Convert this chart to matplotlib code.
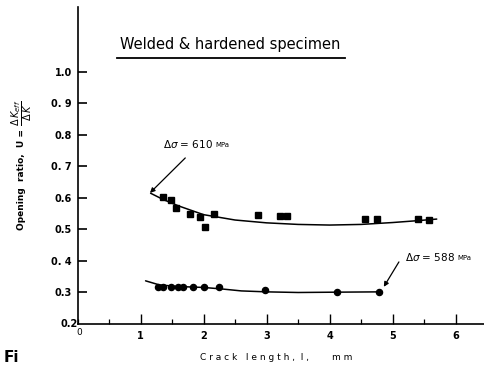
import matplotlib
matplotlib.use("Agg")
import matplotlib.pyplot as plt
from matplotlib.lines import Line2D
from matplotlib.ticker import MultipleLocator, FixedLocator

plt.rcParams['font.family'] = ['DejaVu Sans']

# Measured opening ratios, delta sigma = 610 MPa (squares)
sq_x = [1.35, 1.49, 1.57, 1.78, 1.94, 2.02, 2.17, 2.87, 3.22, 3.32, 4.56, 4.75, 5.40, 5.57]
sq_u = [0.603, 0.594, 0.568, 0.549, 0.540, 0.508, 0.549, 0.546, 0.543, 0.543, 0.533, 0.533, 0.533, 0.530]

# Fitted trend, 610 MPa
fit610_x = [1.16, 1.35, 1.6, 2.0, 2.5, 3.0, 3.5, 4.0, 4.5, 5.0, 5.4, 5.7]
fit610_u = [0.615, 0.596, 0.575, 0.547, 0.530, 0.521, 0.516, 0.514, 0.516, 0.522, 0.528, 0.533]

# Measured opening ratios, delta sigma = 588 MPa (circles)
ci_x = [1.27, 1.35, 1.48, 1.59, 1.67, 1.83, 2.00, 2.24, 2.98, 4.11, 4.79]
ci_u = [0.318, 0.318, 0.318, 0.318, 0.318, 0.318, 0.318, 0.318, 0.308, 0.302, 0.302]

# Fitted trend, 588 MPa
fit588_x = [1.08, 1.3, 1.6, 2.0, 2.3, 2.6, 3.0, 3.5, 4.1, 4.8]
fit588_u = [0.337, 0.324, 0.319, 0.316, 0.311, 0.305, 0.302, 0.300, 0.301, 0.302]

y_ticks = [0.3, 0.4, 0.5, 0.6, 0.7, 0.8, 0.9, 1.0]
y_labels = ["0.3", "0. 4", "0.5", "0.6", "0. 7", "0.8", "0. 9", "1.0"]
x_ticks = [1, 2, 3, 4, 5, 6]
x_labels = ["1", "2", "3", "4", "5", "6"]

W, H = 484, 368
fig = plt.figure(figsize=(W / 100, H / 100), dpi=100)
ax = fig.add_axes([77.5 / W, 44 / H, 1 - 77.5 / W, 317 / H])
ax.set_xlim(0, 6.45)
ax.set_ylim(0.2, 1.206)

for s in ("top", "right"):
    ax.spines[s].set_visible(False)
for s in ("left", "bottom"):
    ax.spines[s].set_linewidth(1.2)

ax.yaxis.set_major_locator(FixedLocator(y_ticks))
ax.set_yticklabels(y_labels)
ax.xaxis.set_major_locator(FixedLocator(x_ticks))
ax.set_xticklabels(x_labels)
ax.xaxis.set_minor_locator(MultipleLocator(0.5))
ax.tick_params(axis="y", direction="in", length=6.5, width=1.2, pad=4,
               labelsize=7)
ax.tick_params(axis="x", which="major", direction="in", length=7, width=1.0,
               pad=5, labelsize=7)
ax.tick_params(axis="x", which="minor", direction="in", length=3.5, width=0.9)
for lab in ax.get_xticklabels() + ax.get_yticklabels():
    lab.set_fontweight("bold")

# 0.2 / origin labels
ax.text(0.0, 0.2, "0.2", transform=ax.transData, ha="right", va="center",
        fontsize=7, fontweight="bold")
ax.annotate("0", xy=(0, 0.2), xytext=(1, -3), textcoords="offset points",
            ha="center", va="top", fontsize=6.5)

# Trend lines and data
ax.plot(fit610_x, fit610_u, color="black", lw=1.1, solid_capstyle="round")
ax.plot(fit588_x, fit588_u, color="black", lw=1.1, solid_capstyle="round")
ax.plot(sq_x, sq_u, ls="none", marker="s", ms=4.6, color="black")
ax.plot(ci_x, ci_u, ls="none", marker="o", ms=4.4, color="black")

# Stress range annotations
arrow = dict(arrowstyle="-|>", color="black", lw=0.9, mutation_scale=7,
             shrinkA=0, shrinkB=0)
ax.annotate("", xy=(1.15, 0.616), xytext=(1.71, 0.727), arrowprops=arrow)
t1 = ax.text(1.36, 0.771, r"$\Delta\sigma$ = 610", fontsize=7.5,
             ha="left", va="center")
ax.annotate("MPa", xy=(1, 0), xycoords=t1, xytext=(1.5, 1.5),
            textcoords="offset points", fontsize=5, va="bottom", ha="left")

ax.annotate("", xy=(4.86, 0.318), xytext=(5.10, 0.397), arrowprops=arrow)
t2 = ax.text(5.20, 0.413, r"$\Delta\sigma$ = 588", fontsize=7.5,
             ha="left", va="center")
ax.annotate("MPa", xy=(1, 0), xycoords=t2, xytext=(1.5, 1.5),
            textcoords="offset points", fontsize=5, va="bottom", ha="left")

# Heading with underline
fig.text(120 / W, 1 - 45 / H, "Welded & hardened specimen", fontsize=10.5,
         ha="left", va="center")
fig.add_artist(Line2D([117 / W, 345 / W], [1 - 58 / H, 1 - 58 / H],
                      color="black", lw=1.3))

# Axis titles: plain part plus a larger fraction
fig.text(22 / W, 1 - 180 / H, "Opening  ratio,  U =",
         rotation=90, fontsize=6.5, ha="center", va="center", fontweight="bold")
fig.text(22 / W, 1 - 113 / H,
         r"$\dfrac{\Delta\, K_{eff}}{\Delta\, K}$",
         rotation=90, fontsize=7, ha="center", va="center")
fig.text(200 / W, 1 - 357 / H, "C r a c k   l e n g t h ,  l ,        m m",
         fontsize=6.5, ha="left", va="center")

fig.text(4 / W, 1 - 350 / H, "Fi", fontsize=11, ha="left", va="top",
         fontweight="bold")

fig.savefig("out.png", dpi=100)
